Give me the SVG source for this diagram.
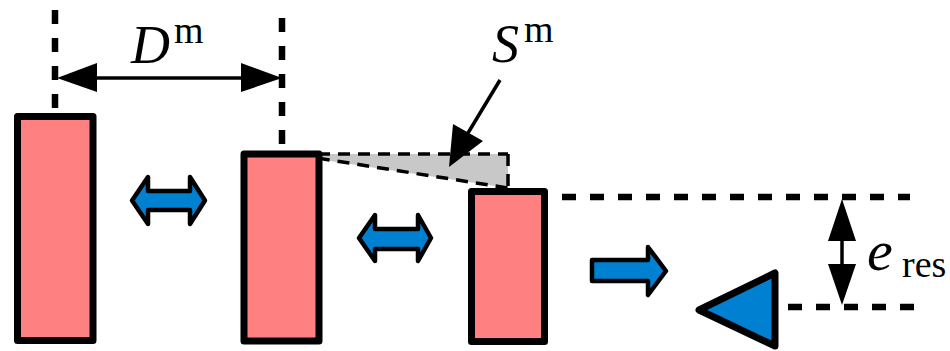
<svg xmlns="http://www.w3.org/2000/svg" width="950" height="351" viewBox="0 0 950 351">
<defs>
<style>
.bar{fill:#ff8080;stroke:#000;stroke-width:7;stroke-linejoin:round}
.blue{fill:#0080d0;stroke:#000;stroke-width:4.5;stroke-linejoin:round}
.dash{fill:none;stroke:#000;stroke-width:6.5;stroke-dasharray:14 14}
.thin{fill:none;stroke:#000;stroke-width:3.5}
.tdash{fill:none;stroke:#000;stroke-width:3.5;stroke-dasharray:12 8}
.head{fill:#000}
.it{font-family:"Liberation Serif",serif;font-style:italic;font-size:54px}
.up{font-family:"Liberation Serif",serif;font-size:38px}
</style>
</defs>
<rect width="950" height="351" fill="#fff"/>
<g id="shade">
<polygon points="284,154 508,154 508,188" fill="#c8c8c8"/>
</g>
<g id="connectors">
<line class="dash" x1="55" y1="10" x2="55" y2="116"/>
<line class="dash" x1="282" y1="18" x2="282" y2="154"/>
<line class="thin" x1="90" y1="78" x2="250" y2="78"/>
<polygon class="head" points="57,78 97,63 97,92"/>
<polygon class="head" points="282,78 241,63 241,92"/>
<line class="tdash" x1="318" y1="154" x2="508" y2="154"/>
<line class="tdash" x1="508" y1="154" x2="508" y2="188"/>
<line class="tdash" x1="298" y1="155" x2="508" y2="188"/>
<line class="thin" x1="500" y1="80" x2="468" y2="133"/>
<polygon class="head" points="449,167 453,124 483,141"/>
<line class="dash" x1="562" y1="197" x2="910" y2="197"/>
<line class="dash" x1="788" y1="307" x2="918" y2="307"/>
<line class="thin" x1="842" y1="230" x2="842" y2="275"/>
<polygon class="head" points="842,199 828,241 856,241"/>
<polygon class="head" points="842,305 828,264 856,264"/>
</g>
<g id="bar1"><rect class="bar" x="17.5" y="116.5" width="75.5" height="224"/></g>
<g id="bar2"><rect class="bar" x="244" y="154" width="75" height="187"/></g>
<g id="bar3"><rect class="bar" x="471.5" y="191.5" width="73" height="150"/></g>
<g id="darrow1"><polygon class="blue" points="132,200.5 148,177 148,191 190,191 190,177 205,200.5 190,224 190,210 148,210 148,224"/></g>
<g id="darrow2"><polygon class="blue" points="359,238 375,215 375,229 418,229 418,215 431,238 418,261 418,249 375,249 375,261"/></g>
<g id="arrow"><polygon class="blue" points="592,260 648,260 648,247 666,271 648,295 648,281 592,281"/></g>
<g id="triangle"><polygon points="699,310 775,273 775,346" fill="#0080d0" stroke="#000" stroke-width="7" stroke-linejoin="round"/></g>
<g id="labels">
<text x="131" y="63" class="it">D</text>
<text x="174" y="43" class="up">m</text>
<text x="492" y="62" class="it">S</text>
<text x="524" y="42" class="up">m</text>
<text x="867" y="270" class="it" style="font-size:58px">e</text>
<text x="902" y="277" class="up">res</text>
</g>
</svg>
